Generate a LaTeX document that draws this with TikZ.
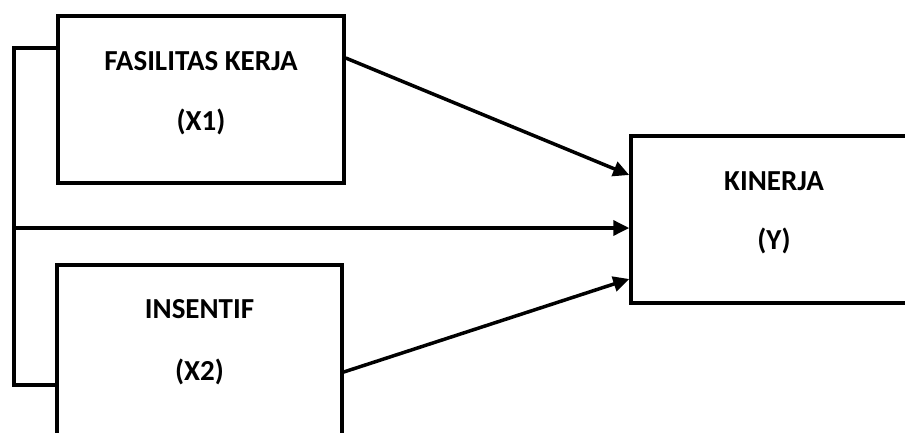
\documentclass[tikz,border=0pt]{standalone}
\usepackage{fontspec}
\setmainfont{Carlito}
\usetikzlibrary{arrows.meta}
\begin{document}
\begin{tikzpicture}[x=1pt,y=-1pt,
  box/.style={draw, line width=3.5pt, inner sep=0pt, minimum width=#1},
  lbl/.style={font=\bfseries\fontsize{29}{33}\selectfont, inner sep=0pt, anchor=center},
  conn/.style={line width=3.5pt},
  arr/.style={line width=3.5pt, -{Triangle[length=16pt,width=15pt]}}]
\useasboundingbox (0,0) rectangle (905,432);
\clip (0,0) rectangle (905,432);
\node[box=286pt, minimum height=167pt] (x1) at (201,99.5) {};
\node[box=285pt, minimum height=180pt] (x2) at (199.5,355) {};
\node[box=286pt, minimum height=167pt] (y) at (774,219.5) {};
\node[lbl] (t1) at (201,61) {FASILITAS KERJA};
\node[lbl] (t1b) at (201,122) {(X1)};
\node[lbl] (t2) at (199.5,309.5) {INSENTIF};
\node[lbl] (t2b) at (199.5,372) {(X2)};
\node[lbl] (t3) at (774,181.5) {KINERJA};
\node[lbl] (t3b) at (774,241) {(Y)};
\coordinate (b1) at (14,48);
\coordinate (b2) at (14,385);
\coordinate (bm) at (14,228);
\coordinate (s1) at (345,58);
\coordinate (s2) at (344,372);
\coordinate (e1) at (618,175);
\coordinate (e3) at (620,279);
\draw[conn] (x1.west |- b1) -- (b1) -- (b2) -- (x2.west |- b2);
\draw[arr] (bm) -- (y.west |- bm);
\draw[arr] (x1.east |- s1) -- (y.west |- e1);
\draw[arr] (x2.east |- s2) -- (y.west |- e3);
\end{tikzpicture}
\end{document}
